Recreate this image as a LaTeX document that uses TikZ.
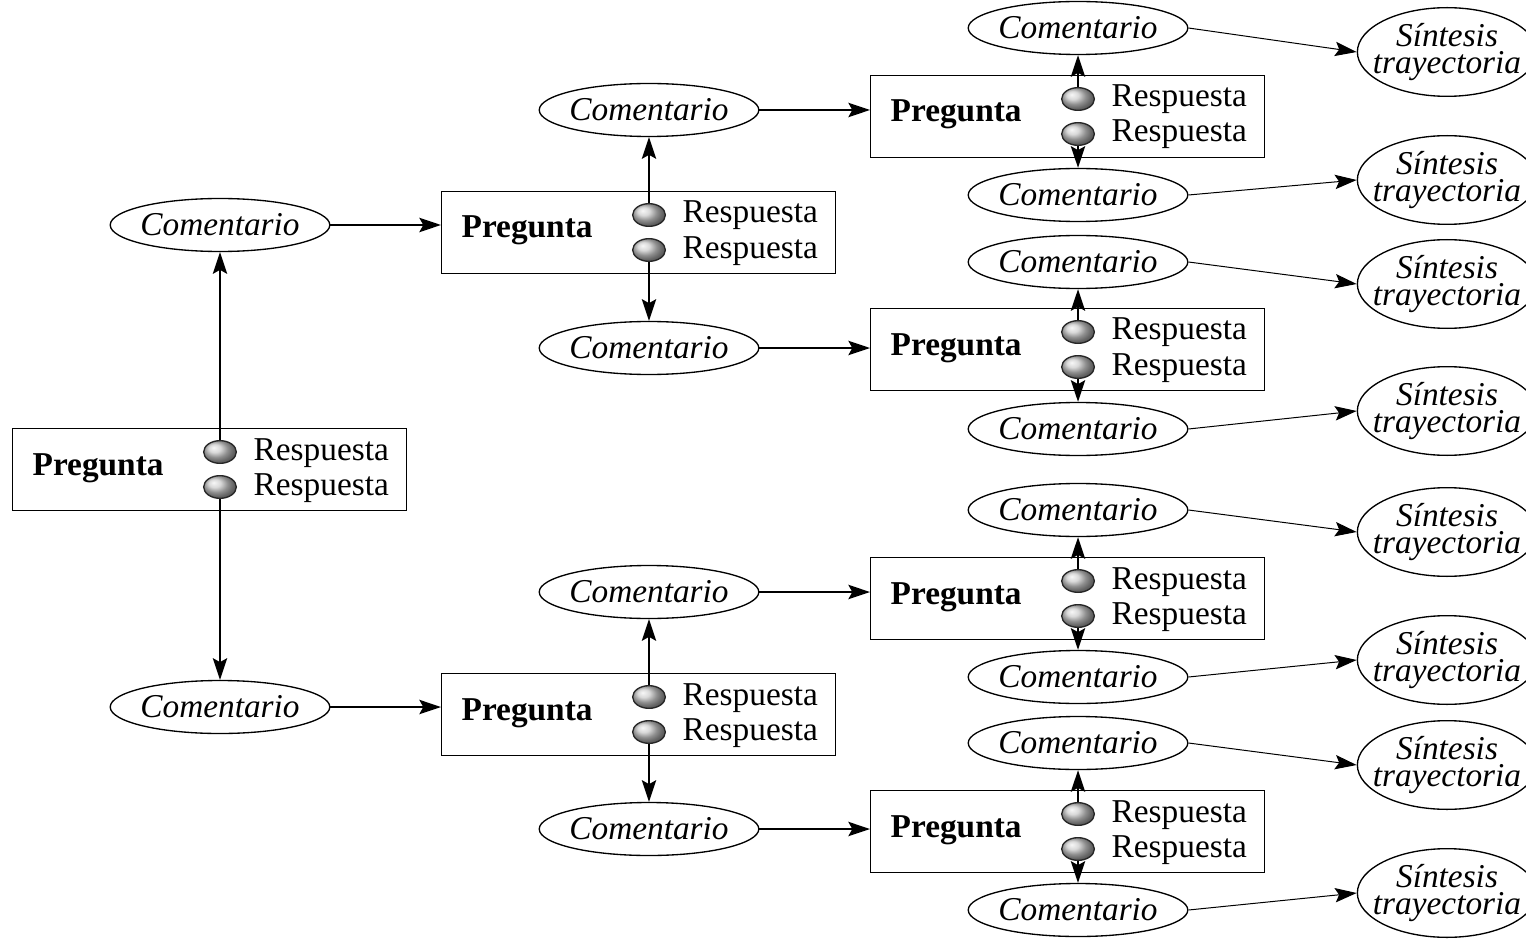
\documentclass[tikz,border=0pt]{standalone}
\usepackage{fontspec}
\setmainfont{Liberation Serif}
\usetikzlibrary{arrows.meta,shapes.geometric,shadings}

% question box with two answer balls: #1 name, (#2,#3) top left corner
\newcommand{\pregunta}[3]{%
  \node[pbox] (#1) at (#2,#3) {};
  \node[txt,font=\bfseries] (#1-t) at (#2+20,#3+47) {Pregunta};
  \node[resp] (#1-r1) at (#2+208,#3+24) {};
  \node[resp] (#1-r2) at (#2+208,#3+59) {};
  \node[txt] (#1-l1) at (#2+241,#3+32) {Respuesta};
  \node[txt] (#1-l2) at (#2+241,#3+67) {Respuesta};
}

\begin{document}
\begin{tikzpicture}[x=0.3pt,y=-0.3pt,
    font=\fontsize{10}{12}\selectfont,
    >={Stealth[length=6.5pt,width=4.3pt,inset=1.2pt]},
    pbox/.style={draw,line width=0.4pt,anchor=north west,inner sep=0pt,
      minimum width=118.2pt,minimum height=24.6pt},
    txt/.style={anchor=base west,inner sep=0pt},
    resp/.style={ellipse,draw=black!85,line width=0.4pt,ball color=gray!40,
      inner sep=0pt,minimum width=9.8pt,minimum height=6.8pt},
    com/.style={ellipse,draw,line width=0.4pt,inner ysep=0pt,inner xsep=-0.6pt,
      font=\itshape,minimum width=64.8pt,minimum height=15.9pt},
    sint/.style={ellipse,draw,line width=0.4pt,inner ysep=0pt,inner xsep=-3.2pt,
      align=center,font=\itshape\fontsize{10}{8.1}\selectfont,
      minimum width=52.8pt,minimum height=26.6pt},
    conn/.style={->,line width=0.5pt},
    thin/.style={->,line width=0.3pt}]
  \useasboundingbox (0,0) rectangle (1526,938);

  % first level
  \pregunta{p0}{12}{428}
  \node[com] (c0a) at (220,225) {Comentario};
  \node[com] (c0b) at (220,707) {Comentario};
  \draw[conn] (p0-r1.north) -- (c0a.south);
  \draw[conn] (p0-r2.south) -- (c0b.north);

  % second level
  \pregunta{p1a}{441}{191}
  \pregunta{p1b}{441}{673}
  \draw[conn] (c0a.east) -- (c0a.east -| p1a.west);
  \draw[conn] (c0b.east) -- (c0b.east -| p1b.west);
  \node[com] (c1a) at (649,110) {Comentario};
  \node[com] (c1b) at (649,348) {Comentario};
  \node[com] (c1c) at (649,592) {Comentario};
  \node[com] (c1d) at (649,829) {Comentario};
  \draw[conn] (p1a-r1.north) -- (c1a.south);
  \draw[conn] (p1a-r2.south) -- (c1b.north);
  \draw[conn] (p1b-r1.north) -- (c1c.south);
  \draw[conn] (p1b-r2.south) -- (c1d.north);

  % third level
  \pregunta{p2a}{870}{75}
  \pregunta{p2b}{870}{308}
  \pregunta{p2c}{870}{557}
  \pregunta{p2d}{870}{790}
  \draw[conn] (c1a.east) -- (c1a.east -| p2a.west);
  \draw[conn] (c1b.east) -- (c1b.east -| p2b.west);
  \draw[conn] (c1c.east) -- (c1c.east -| p2c.west);
  \draw[conn] (c1d.east) -- (c1d.east -| p2d.west);
  \foreach \p/\u/\d/\yu/\yd in {p2a/c2a/c2b/28/195, p2b/c2c/c2d/262/429,
      p2c/c2e/c2f/510/677, p2d/c2g/c2h/743/910}{
    \node[com] (\u) at (1078,\yu) {Comentario};
    \node[com] (\d) at (1078,\yd) {Comentario};
    \draw[conn] (\p-r1.north) -- (\u.south);
    \draw[conn] (\p-r2.south) -- (\d.north);
  }

  % summaries on the right
  \foreach \c/\s/\y in {c2a/s1/52, c2b/s2/180, c2c/s3/284, c2d/s4/411,
      c2e/s5/532, c2f/s6/660, c2g/s7/765, c2h/s8/893}{
    \node[sint] (\s) at (1447,\y) {Síntesis\\trayectoria};
    \draw[thin] (\c.east) -- (\s.west);
  }
\end{tikzpicture}
\end{document}
